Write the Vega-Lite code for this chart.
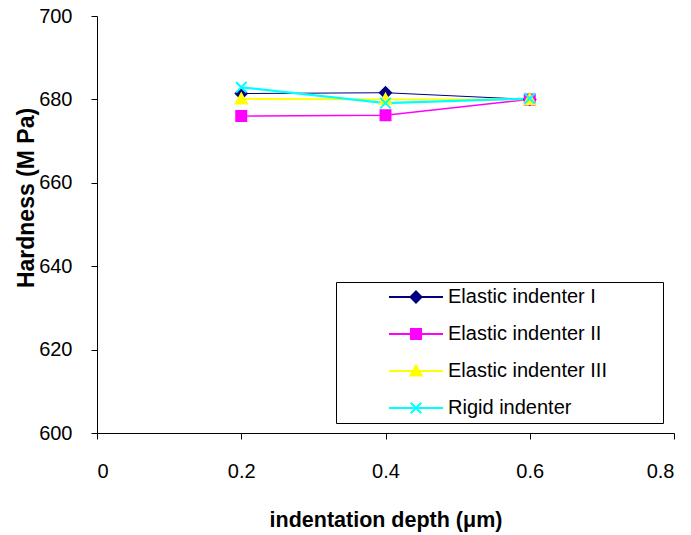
{
  "$schema": "https://vega.github.io/schema/vega-lite/v6.json",
  "width": 577,
  "height": 417,
  "autosize": "none",
  "padding": {"left": 97, "top": 16, "right": 17, "bottom": 102},
  "background": "white",
  "config": {"view": {"stroke": null}, "font": "Liberation Sans"},
  "data": {
    "values": [
      {"series": "Elastic indenter I", "depth": 0.2, "hardness": 681.4},
      {"series": "Elastic indenter I", "depth": 0.4, "hardness": 681.6},
      {"series": "Elastic indenter I", "depth": 0.6, "hardness": 680.0},
      {"series": "Elastic indenter II", "depth": 0.2, "hardness": 676.0},
      {"series": "Elastic indenter II", "depth": 0.4, "hardness": 676.2},
      {"series": "Elastic indenter II", "depth": 0.6, "hardness": 680.0},
      {"series": "Elastic indenter III", "depth": 0.2, "hardness": 680.1},
      {"series": "Elastic indenter III", "depth": 0.4, "hardness": 680.0},
      {"series": "Elastic indenter III", "depth": 0.6, "hardness": 680.0},
      {"series": "Rigid indenter", "depth": 0.2, "hardness": 682.9},
      {"series": "Rigid indenter", "depth": 0.4, "hardness": 679.1},
      {"series": "Rigid indenter", "depth": 0.6, "hardness": 680.2}
    ]
  },
  "encoding": {
    "x": {
      "field": "depth", "type": "quantitative",
      "scale": {"domain": [0, 0.8], "nice": false},
      "axis": {
        "values": [0, 0.2, 0.4, 0.6, 0.8], "format": "~g", "grid": false,
        "domainColor": "black", "tickColor": "black", "tickSize": 6,
        "labelFontSize": 20, "labelColor": "black", "labelPadding": 22,
        "title": "indentation depth (μm)", "titleFontSize": 21.5, "titleFontWeight": "bold",
        "titleColor": "black", "titleY": 87, "titleBaseline": "middle"
      }
    },
    "y": {
      "field": "hardness", "type": "quantitative",
      "scale": {"domain": [600, 700], "zero": false, "nice": false},
      "axis": {
        "values": [600, 620, 640, 660, 680, 700], "grid": false,
        "domainColor": "black", "tickColor": "black", "tickSize": 6,
        "labelFontSize": 20, "labelColor": "black", "labelPadding": 19,
        "title": "Hardness (M Pa)", "titleFontSize": 23, "titleFontWeight": "bold",
        "titleColor": "black", "titleX": -64, "titleY": 181.5, "titleBaseline": "alphabetic"
      }
    }
  },
  "layer": [
    {
      "mark": {"type": "line"},
      "encoding": {
        "stroke": {"field": "series", "type": "nominal",
          "scale": {"domain": ["Elastic indenter I", "Elastic indenter II", "Elastic indenter III", "Rigid indenter"], "range": ["#000080", "#FF00FF", "#FFFF00", "#00FFFF"]},
          "legend": null},
        "strokeWidth": {"field": "series", "type": "ordinal",
          "scale": {"domain": ["Elastic indenter I", "Elastic indenter II", "Elastic indenter III", "Rigid indenter"], "range": [1, 2.2, 2.2, 2.2]},
          "legend": null}
      }
    },
    {
      "mark": {"type": "point", "filled": true, "opacity": 1, "size": 100, "strokeWidth": 2},
      "encoding": {
        "shape": {"field": "series", "type": "nominal",
          "scale": {"domain": ["Elastic indenter I", "Elastic indenter II", "Elastic indenter III", "Rigid indenter"],
            "range": ["M0,-1.1L1.1,0L0,1.1L-1.1,0Z", "M-1,-1H1V1H-1Z", "M0,-1.1L1.1,0.9H-1.1Z", "M-1.05,-1.05L1.05,1.05M-1.05,1.05L1.05,-1.05"]},
          "legend": null},
        "fill": {"field": "series", "type": "nominal",
          "scale": {"domain": ["Elastic indenter I", "Elastic indenter II", "Elastic indenter III", "Rigid indenter"], "range": ["#000080", "#FF00FF", "#FFFF00", "#00FFFF"]},
          "legend": null},
        "stroke": {"field": "series", "type": "nominal",
          "scale": {"domain": ["Elastic indenter I", "Elastic indenter II", "Elastic indenter III", "Rigid indenter"], "range": ["#000080", "#FF00FF", "#FFFF00", "#00FFFF"]},
          "legend": null}
      }
    },
    {
      "mark": {"type": "point", "filled": true, "opacity": 0, "size": 100},
      "encoding": {
        "shape": {"field": "series", "type": "nominal",
          "scale": {"domain": ["Elastic indenter I", "Elastic indenter II", "Elastic indenter III", "Rigid indenter"],
            "range": ["M-5.4,0H5.4M0,-1.1L1.1,0L0,1.1L-1.1,0Z", "M-5.4,0H5.4M-1,-1H1V1H-1Z", "M-5.4,0H5.4M0,-1.1L1.1,0.9H-1.1Z", "M-5.4,0H5.4M-1.05,-1.05L1.05,1.05M-1.05,1.05L1.05,-1.05"]},
          "legend": {"title": " ", "titleOrient": "right", "titleFontSize": 1, "titlePadding": 51, "orient": "none", "legendX": 239, "legendY": 266, "padding": 5, "strokeColor": "black", "fillColor": "white",
            "labelFont": "Liberation Sans", "labelFontSize": 20, "labelColor": "black", "symbolSize": 100, "symbolStrokeWidth": 2, "symbolOpacity": 1,
            "rowPadding": 17, "symbolOffset": 65, "labelOffset": 22}},
        "fill": {"field": "series", "type": "nominal",
          "scale": {"domain": ["Elastic indenter I", "Elastic indenter II", "Elastic indenter III", "Rigid indenter"], "range": ["#000080", "#FF00FF", "#FFFF00", "#00FFFF"]},
          "legend": {"title": " ", "titleOrient": "right", "titleFontSize": 1, "titlePadding": 51, "orient": "none", "legendX": 239, "legendY": 266, "padding": 5, "strokeColor": "black", "fillColor": "white",
            "labelFont": "Liberation Sans", "labelFontSize": 20, "labelColor": "black", "symbolSize": 100, "symbolStrokeWidth": 2, "symbolOpacity": 1,
            "rowPadding": 17, "symbolOffset": 65, "labelOffset": 22}},
        "stroke": {"field": "series", "type": "nominal",
          "scale": {"domain": ["Elastic indenter I", "Elastic indenter II", "Elastic indenter III", "Rigid indenter"], "range": ["#000080", "#FF00FF", "#FFFF00", "#00FFFF"]},
          "legend": {"title": " ", "titleOrient": "right", "titleFontSize": 1, "titlePadding": 51, "orient": "none", "legendX": 239, "legendY": 266, "padding": 5, "strokeColor": "black", "fillColor": "white",
            "labelFont": "Liberation Sans", "labelFontSize": 20, "labelColor": "black", "symbolSize": 100, "symbolStrokeWidth": 2, "symbolOpacity": 1,
            "rowPadding": 17, "symbolOffset": 65, "labelOffset": 22}}
      }
    }
  ],
  "resolve": {"scale": {"shape": "independent", "fill": "independent", "stroke": "independent"}}
}
